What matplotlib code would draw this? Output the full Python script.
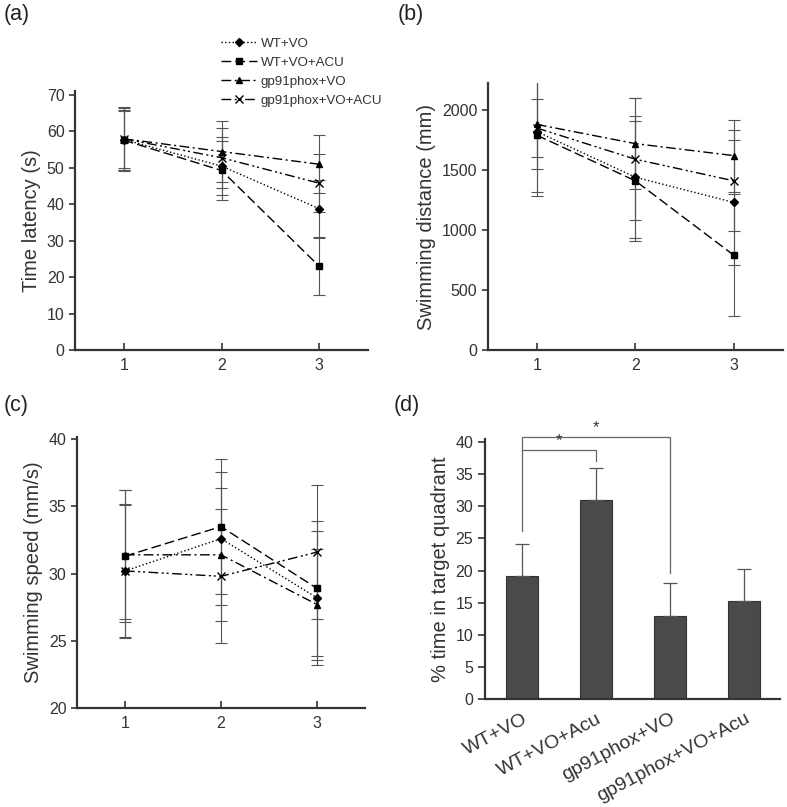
import numpy as np
import matplotlib.pyplot as plt

plt.rcParams['font.family'] = ['Liberation Sans', 'DejaVu Sans']

days = [1, 2, 3]
groups = ["WT+VO", "WT+VO+ACU", "gp91phox+VO", "gp91phox+VO+ACU"]

# (a) time latency (s)
lat_mean = [[57.8, 50.5, 38.8], [57.6, 49.3, 23.0], [58.0, 54.5, 51.0], [58.0, 52.8, 45.8]]
lat_err = [[7.9, 8.0, 8.0], [8.2, 8.2, 8.0], [8.8, 8.3, 8.0], [8.5, 8.2, 8.0]]

# (b) swimming distance (mm)
dist_mean = [[1820, 1440, 1230], [1790, 1410, 790], [1880, 1720, 1620], [1850, 1590, 1410]]
dist_err = [[500, 510, 520], [510, 500, 510], [370, 380, 300], [240, 510, 420]]

# (c) swimming speed (mm/s)
speed_mean = [[30.2, 32.6, 28.2], [31.3, 33.5, 28.9], [31.4, 31.4, 27.7], [30.2, 29.8, 31.6]]
speed_err = [[5.0, 4.95, 5.0], [4.9, 5.0, 5.0], [4.8, 4.95, 4.1], [4.9, 5.0, 5.0]]

# (d) % time in target quadrant
bar_labels = ["WT+VO", "WT+VO+Acu", "gp91phox+VO", "gp91phox+VO+Acu"]
bar_vals = [19.1, 30.9, 13.0, 15.3]
bar_err = [5.0, 5.0, 5.0, 5.0]

styles = [":", (0, (7, 3)), (0, (7, 2.5, 1.5, 2.5)), (0, (7, 2.5, 1.5, 2, 1.5, 2.5))]
markers = ["D", "s", "^", "x"]
msizes = [3.8, 4.8, 4.8, 5.5]
txt = "#333333"

fig = plt.figure(figsize=(7.87, 8.07), dpi=100)
ax_a = fig.add_axes([0.0953, 0.5663, 0.3723, 0.3204])
ax_b = fig.add_axes([0.6197, 0.5663, 0.3752, 0.3308])
ax_c = fig.add_axes([0.0978, 0.1227, 0.3660, 0.3363])
ax_d = fig.add_axes([0.6163, 0.1335, 0.3748, 0.3221])


def style_axes(ax):
    for s in ["top", "right"]:
        ax.spines[s].set_visible(False)
    for s in ["left", "bottom"]:
        ax.spines[s].set_color(txt)
        ax.spines[s].set_linewidth(1.6)
    ax.tick_params(axis="y", direction="out", length=4, width=1.2, color=txt,
                   labelcolor=txt, labelsize=11.5)
    ax.tick_params(axis="x", direction="in", length=5, width=1.2, color=txt,
                   labelcolor=txt, labelsize=11.5, pad=6)


def line_panel(ax, means, errs, ylabel, ylim, yticks):
    handles = []
    for i in range(4):
        ax.errorbar(days, means[i], yerr=errs[i], fmt="none", ecolor="#555555",
                    elinewidth=0.8, capsize=4, capthick=0.8, zorder=2)
        h, = ax.plot(days, means[i], linestyle=styles[i], marker=markers[i],
                     markersize=msizes[i], color="black", linewidth=1.0,
                     markeredgewidth=1.0, label=groups[i], zorder=3)
        handles.append(h)
    ax.set_xlim(0.5, 3.5)
    ax.set_ylim(*ylim)
    ax.set_xticks(days)
    ax.set_yticks(yticks)
    ax.set_ylabel(ylabel, fontsize=14.5, color=txt)
    style_axes(ax)
    return handles


hs = line_panel(ax_a, lat_mean, lat_err, "Time latency (s)", (0, 71), range(0, 71, 10))
line_panel(ax_b, dist_mean, dist_err, "Swimming distance (mm)", (0, 2225), range(0, 2001, 500))
line_panel(ax_c, speed_mean, speed_err, "Swimming speed (mm/s)", (20, 40.2), range(20, 41, 5))

fig.legend(handles=hs, loc="upper left", bbox_to_anchor=(0.266, 0.968), frameon=False,
           fontsize=9.6, handlelength=2.7, handletextpad=0.25, labelspacing=0.5,
           labelcolor=txt)

# (d) bars
xb = np.arange(len(bar_vals))
ax_d.bar(xb, bar_vals, width=0.43, color="#4a4a4a", edgecolor="#333333", linewidth=0.8, zorder=2)
ax_d.errorbar(xb, bar_vals, yerr=[np.zeros(4), bar_err], fmt="none", ecolor="#555555",
              elinewidth=0.9, capsize=5, capthick=0.9, zorder=3)
ax_d.set_xlim(-0.5, 3.48)
ax_d.set_ylim(0, 40.4)
ax_d.set_yticks(range(0, 41, 5))
ax_d.set_xticks(xb)
ax_d.set_xticklabels(bar_labels, rotation=28, ha="right", rotation_mode="anchor")
ax_d.set_ylabel("% time in target quadrant", fontsize=14.5, color=txt)
style_axes(ax_d)
ax_d.tick_params(axis="x", length=0, labelsize=14, pad=8)
ax_d.tick_params(axis="y", length=5)

# significance brackets
bc = "#666666"
ax_d.plot([0, 0, 2, 2], [26.2, 40.7, 40.7, 19.7], color=bc, linewidth=0.9, clip_on=False)
ax_d.plot([0, 0, 1, 1], [38.8, 38.8, 38.8, 37.1], color=bc, linewidth=0.9, clip_on=False)
ax_d.text(1.0, 41.0, "*", ha="center", va="bottom", fontsize=12, color=txt)
ax_d.text(0.5, 39.1, "*", ha="center", va="bottom", fontsize=12, color=txt)

for lab, x, y in [("(a)", 0.005, 0.995), ("(b)", 0.505, 0.995),
                  ("(c)", 0.005, 0.51), ("(d)", 0.5, 0.51)]:
    fig.text(x, y, lab, ha="left", va="top", fontsize=15.5, color="#222222")

fig.savefig("out.png", dpi=100)
